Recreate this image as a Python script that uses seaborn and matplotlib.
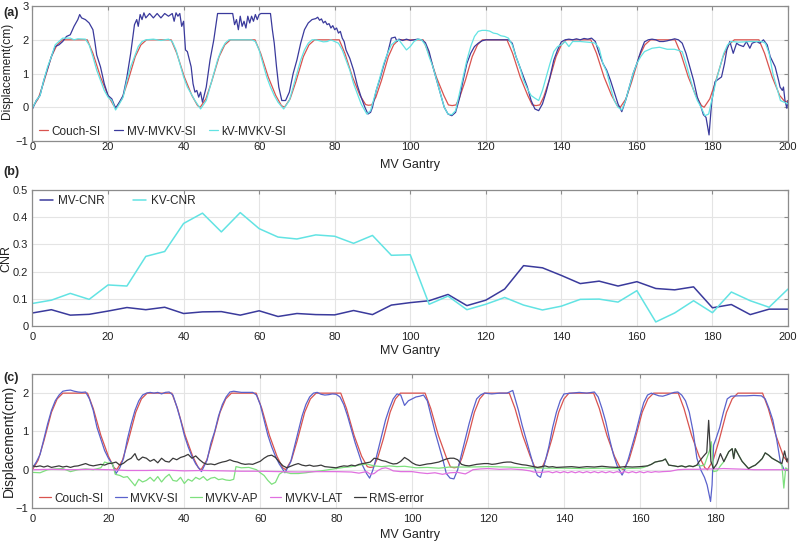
import matplotlib
matplotlib.use("Agg")
import matplotlib.pyplot as plt
import seaborn as sns

# ---- panel (a) / (c): couch reference motion (gantry deg, cm)
couch_si = [
    (0, 0.0), (1.5, 0.25), (3, 0.75), (5, 1.5), (6.5, 1.85), (8, 2.0), (14.5, 2.0), (16, 1.6), (18, 0.9), (20, 0.35), (21.5, 0.05),
    (22.2, 0.0), (23.7, 0.25), (25.2, 0.75), (27.2, 1.5), (28.7, 1.85), (30.2, 2.0), (36.7, 2.0), (38.2, 1.6), (40.2, 0.9), (42.2, 0.35), (43.7, 0.05),
    (44.4, 0.0), (45.9, 0.25), (47.4, 0.75), (49.4, 1.5), (50.9, 1.85), (52.4, 2.0), (58.9, 2.0), (60.4, 1.6), (62.4, 0.9), (64.4, 0.35), (65.9, 0.05),
    (66.7, 0.0), (68.2, 0.25), (69.7, 0.75), (71.7, 1.5), (73.2, 1.85), (74.7, 2.0), (81.2, 2.0), (82.7, 1.6), (84.7, 0.9), (86.7, 0.35), (88.2, 0.08),
    (88.9, 0.06), (89.8, 0.07), (90.9, 0.3), (92.4, 0.8), (94.2, 1.5), (95.6, 1.85), (96.9, 2.0), (103.4, 2.0), (104.9, 1.6), (106.9, 0.9), (108.9, 0.35), (110.1, 0.07),
    (111.1, 0.05), (112.1, 0.07), (113.1, 0.3), (114.6, 0.8), (116.4, 1.5), (117.8, 1.85), (119.1, 2.0), (125.6, 2.0), (127.1, 1.6), (129.1, 0.9), (131.1, 0.35), (132.3, 0.07),
    (133.3, 0.05), (134.3, 0.07), (135.3, 0.3), (136.8, 0.8), (138.6, 1.5), (140.0, 1.85), (141.3, 2.0), (147.8, 2.0), (149.3, 1.6), (151.3, 0.9), (153.3, 0.35), (154.8, 0.05),
    (155.6, 0.0), (157.1, 0.25), (158.6, 0.75), (160.6, 1.5), (162.1, 1.85), (163.6, 2.0), (170.1, 2.0), (171.6, 1.6), (173.6, 0.9), (175.6, 0.35), (177.1, 0.05),
    (177.8, 0.0), (179.3, 0.25), (180.8, 0.75), (182.8, 1.5), (184.3, 1.85), (185.8, 2.0), (192.3, 2.0), (193.8, 1.6), (195.8, 0.9), (197.8, 0.35), (199.3, 0.15), (200, 0.2),
]

mv_mvkv_si = [
    (0, -0.05), (1, 0.2), (2, 0.35), (3, 0.8), (4, 1.15), (5, 1.5), (6, 1.8), (7, 1.85), (8, 1.95), (9, 2.1), (10, 2.15), (11, 2.4), (12, 2.6), (12.5, 2.75),
    (13, 2.65), (14, 2.6), (15, 2.5), (16, 2.3), (16.5, 1.95), (17, 1.55), (18, 1.2), (19, 0.7), (20, 0.35), (21, 0.25), (22, -0.03), (23, 0.15), (24, 0.35),
    (25, 0.9), (26, 1.6), (26.6, 2.1), (27, 2.45), (27.6, 2.6), (28, 2.4), (28.5, 2.75), (29, 2.6), (29.5, 2.8), (30, 2.65), (31, 2.78), (32, 2.65), (33, 2.78),
    (34, 2.65), (35, 2.78), (36, 2.7), (37, 2.78), (37.5, 2.55), (38, 2.8), (38.5, 2.7), (39, 2.78), (39.5, 2.4), (40, 2.55), (40.5, 1.7), (41, 1.65), (42, 1.2),
    (42.5, 0.7), (43, 0.45), (43.5, 0.5), (44, 0.3), (44.5, 0.45), (45, 0.15), (46, 0.6), (47, 1.4), (48, 2.0), (48.5, 2.4), (49, 2.78), (53, 2.78), (53.5, 2.45),
    (54, 2.6), (54.5, 2.3), (55, 2.7), (55.5, 2.4), (56, 2.55), (56.5, 2.35), (57, 2.7), (57.5, 2.5), (58, 2.7), (58.5, 2.55), (59, 2.75), (59.5, 2.6), (60, 2.75),
    (60.5, 2.78), (63, 2.78), (63.5, 2.3), (64, 1.9), (64.6, 1.2), (65.2, 0.6), (66, 0.2), (67, 0.2), (68, 0.45), (69, 1.0), (70, 1.4), (71, 1.9), (72, 2.3),
    (73, 2.5), (74, 2.6), (75, 2.63), (75.5, 2.67), (76, 2.58), (76.5, 2.62), (77, 2.5), (77.5, 2.55), (78, 2.45), (78.5, 2.48), (79, 2.35), (79.5, 2.42),
    (80, 2.3), (80.5, 2.35), (81, 2.2), (81.5, 2.25), (82, 2.05), (82.5, 1.95), (83, 1.7), (84, 1.45), (85, 1.1), (86, 0.65), (87, 0.3), (88, 0.0), (88.8, -0.2),
    (89.5, -0.15), (90, 0.0), (91, 0.5), (92, 0.85), (93, 1.25), (94, 1.6), (95, 2.05), (96, 2.08), (96.5, 1.95), (97, 2.02), (98, 1.98), (99, 2.02), (100, 1.98),
    (101, 2.0), (102, 2.02), (103, 2.0), (104, 1.92), (105, 1.65), (106, 1.2), (107, 0.8), (108, 0.4), (109, 0.0), (110, -0.2), (111, -0.25), (112, -0.15),
    (113, 0.25), (114, 0.8), (115, 1.3), (116, 1.6), (117, 1.8), (118, 1.9), (119, 1.97), (120, 2.0), (122, 2.0), (124, 2.0), (126, 2.0), (127, 1.9), (128, 1.5),
    (129, 1.2), (130, 0.9), (131, 0.6), (132, 0.2), (133, -0.05), (134, -0.1), (135, 0.1), (136, 0.46), (137, 0.9), (138, 1.4), (139, 1.7), (140, 1.94),
    (141, 2.0), (142, 2.02), (143, 2.0), (144, 2.03), (145, 2.0), (146, 2.04), (147, 2.02), (148, 2.05), (149, 1.95), (150, 1.6), (151, 1.3), (152, 1.1),
    (153, 0.8), (154, 0.45), (155, 0.1), (156, -0.13), (157, 0.2), (158, 0.6), (159, 1.0), (160, 1.3), (161, 1.65), (162, 1.94), (163, 2.0), (164, 2.02),
    (165, 2.0), (166, 1.95), (167, 1.95), (168, 1.97), (169, 2.0), (170, 2.03), (171, 2.0), (172, 1.9), (173, 1.6), (174, 1.2), (175, 0.8), (176, 0.3),
    (177, 0.0), (177.6, -0.22), (178.3, -0.3), (179.1, -0.82), (179.8, 0.16), (180.7, 0.76), (182.4, 0.9), (183.2, 1.3), (183.8, 1.7), (184.6, 1.95),
    (185.5, 1.6), (186.4, 1.9), (187, 1.85), (188.2, 1.8), (189, 1.95), (189.9, 1.75), (190.5, 1.9), (191.7, 1.95), (192.5, 1.9), (193.5, 2.0), (194.5, 1.85),
    (195.3, 1.5), (196.6, 1.2), (197.5, 0.8), (197.9, 0.6), (198.5, 0.5), (198.8, 0.6), (199.2, 0.2), (199.7, -0.03), (200, 0.2),
]

kv_mvkv_si = [
    (0, -0.02), (1, 0.2), (2, 0.35), (3, 0.8), (4, 1.2), (5, 1.5), (6, 1.85), (7, 1.95), (8, 2.05), (9, 2.05), (10, 2.05), (11, 2.0), (12, 2.03), (14, 2.02),
    (15, 1.85), (16, 1.5), (17, 1.1), (18, 0.8), (19, 0.5), (20, 0.3), (21, 0.2), (22, -0.08), (23, 0.1), (24, 0.3), (25, 0.8), (26, 1.2), (27, 1.5), (28, 1.8),
    (29, 1.95), (30, 2.0), (32, 2.02), (33, 2.0), (34, 1.98), (35, 2.0), (36, 2.02), (37, 1.95), (38, 1.7), (39, 1.3), (40, 0.9), (41, 0.6), (42, 0.4), (43, 0.2),
    (44.5, -0.05), (46, 0.2), (47, 0.6), (48, 1.0), (49, 1.4), (50, 1.7), (51, 1.9), (52, 2.0), (55, 2.0), (58, 2.0), (59, 1.95), (60, 1.7), (61, 1.3), (62, 0.9),
    (63, 0.6), (64, 0.35), (65, 0.15), (66.5, -0.05), (68, 0.2), (69, 0.6), (70, 1.0), (71, 1.4), (72, 1.7), (73, 1.9), (74, 2.0), (75, 2.0), (76, 1.97),
    (77, 1.94), (78, 1.95), (79, 2.0), (80, 1.95), (81, 1.9), (82, 1.7), (83, 1.4), (84, 1.1), (85, 0.7), (86, 0.4), (87, 0.1), (88.5, -0.2), (89.5, -0.1),
    (90, 0.1), (91, 0.5), (92, 0.9), (93, 1.3), (94, 1.6), (95, 1.85), (96, 1.95), (97, 2.0), (98, 1.85), (99, 1.7), (100, 1.8), (101, 1.95), (102, 2.02),
    (103, 2.0), (104, 1.85), (105, 1.5), (106, 1.2), (107, 0.8), (108, 0.4), (109, 0.0), (110, -0.2), (111, -0.22), (112, -0.1), (113, 0.4), (114, 0.9),
    (115, 1.4), (116, 1.8), (117, 2.1), (118, 2.25), (119, 2.28), (120, 2.28), (121, 2.26), (122, 2.2), (123, 2.18), (124, 2.12), (125, 2.1), (126, 2.05),
    (127, 1.85), (128, 1.5), (129, 1.2), (130, 0.8), (131, 0.55), (132, 0.35), (133, 0.27), (134, 0.2), (135, 0.5), (136, 0.9), (137, 1.3), (138, 1.65),
    (139, 1.8), (140, 1.85), (141, 1.95), (142, 1.8), (143, 1.95), (145, 1.95), (148, 1.92), (149, 1.9), (150, 1.75), (151, 1.3), (152, 1.05), (153, 0.6),
    (154, 0.2), (155, 0.0), (156, -0.08), (157, 0.2), (158, 0.6), (159, 1.0), (160, 1.3), (161, 1.5), (162, 1.65), (163, 1.7), (164, 1.75), (166, 1.78),
    (168, 1.72), (170, 1.72), (172, 1.65), (173, 1.3), (174, 0.9), (175, 0.5), (176, 0.2), (177, 0.0), (178, -0.25), (179, -0.2), (180, 0.3), (181, 0.8),
    (182, 1.2), (183, 1.6), (184, 1.85), (185, 1.95), (187, 1.93), (190, 1.95), (193, 1.95), (194, 1.9), (195, 1.6), (196, 1.0), (197, 0.6), (198, 0.2),
    (199, 0.15), (200, 0.1),
]

# ---- panel (b): contrast-to-noise ratio every 5 deg
cnr_gantry = list(range(0, 201, 5))
mv_cnr = [0.048, 0.06, 0.04, 0.043, 0.055, 0.068, 0.06, 0.069, 0.046, 0.052, 0.053, 0.04, 0.056, 0.035, 0.046, 0.042, 0.041,
          0.057, 0.042, 0.077, 0.086, 0.093, 0.116, 0.075, 0.095, 0.136, 0.222, 0.214, 0.186, 0.156, 0.165, 0.147, 0.163, 0.138,
          0.133, 0.144, 0.067, 0.079, 0.042, 0.062, 0.062]
kv_cnr = [0.083, 0.095, 0.12, 0.098, 0.151, 0.147, 0.256, 0.274, 0.377, 0.415, 0.346, 0.417, 0.358, 0.327, 0.32, 0.335, 0.33,
          0.304, 0.333, 0.26, 0.262, 0.08, 0.11, 0.06, 0.08, 0.105, 0.077, 0.059, 0.073, 0.098, 0.099, 0.088, 0.13, 0.015,
          0.048, 0.093, 0.049, 0.125, 0.093, 0.069, 0.136]

# ---- panel (c): MVKV estimates
mvkv_si = [
    (0, 0.05), (1, 0.2), (2, 0.4), (3, 0.8), (4, 1.2), (5, 1.55), (6, 1.8), (7, 1.95), (8, 2.05), (9, 2.07), (10, 2.08), (11, 2.05), (12, 2.03), (13, 2.02),
    (14, 2.03), (15, 1.85), (16, 1.55), (17, 1.1), (18, 0.8), (19, 0.5), (20, 0.3), (21, 0.15), (22, -0.1), (23, 0.05), (24, 0.3), (25, 0.8), (26, 1.2),
    (27, 1.55), (28, 1.8), (29, 1.95), (30, 2.0), (31, 2.02), (32, 2.0), (33, 2.02), (34, 1.98), (35, 2.02), (36, 2.03), (37, 1.95), (38, 1.65), (39, 1.3),
    (40, 0.9), (41, 0.6), (42, 0.35), (43, 0.15), (44.5, -0.05), (46, 0.25), (47, 0.7), (48, 1.0), (49, 1.4), (50, 1.7), (51, 1.9), (52, 2.03), (53, 2.05),
    (55, 2.02), (58, 2.02), (59, 1.95), (60, 1.7), (61, 1.3), (62, 0.9), (63, 0.6), (64, 0.35), (65, 0.15), (66.5, -0.08), (68, 0.2), (69, 0.6), (70, 1.0),
    (71, 1.4), (72, 1.7), (73, 1.9), (74, 2.0), (75, 2.02), (76, 1.97), (77, 1.95), (78, 1.96), (79, 1.98), (80, 1.97), (81, 1.9), (82, 1.7), (83, 1.4),
    (84, 1.05), (85, 0.7), (86, 0.4), (87, 0.1), (88, -0.1), (88.8, -0.22), (89.5, -0.05), (90, 0.1), (91, 0.5), (92, 0.9), (93, 1.3), (94, 1.6), (95, 1.85),
    (96, 1.98), (97, 1.95), (98, 1.68), (99, 1.8), (100, 1.85), (101, 1.9), (102, 1.92), (103, 1.95), (104, 1.8), (105, 1.4), (106, 1.0), (107, 0.65),
    (108, 0.3), (109, -0.1), (110, -0.22), (111, -0.24), (112, 0.0), (113, 0.4), (114, 0.8), (115, 1.2), (116, 1.55), (117, 1.85), (118, 1.95), (119, 2.0),
    (121, 1.98), (123, 2.0), (125, 2.0), (126.5, 2.07), (127, 1.9), (128, 1.55), (129, 1.15), (130, 0.8), (131, 0.45), (132, 0.1), (133, -0.15),
    (133.8, -0.2), (135, 0.2), (136, 0.6), (137, 1.1), (138, 1.5), (139, 1.8), (140, 1.98), (142, 2.0), (144, 2.02), (146, 2.0), (148, 2.03), (149, 1.9),
    (150, 1.6), (151, 1.25), (152, 0.8), (153, 0.4), (154, 0.1), (155.3, -0.14), (156, 0.0), (157, 0.3), (158, 0.65), (159, 1.0), (160, 1.4), (161, 1.75),
    (162, 1.95), (163, 2.0), (165, 1.93), (166, 1.92), (167, 1.95), (169, 2.02), (170, 2.03), (171, 1.95), (172, 1.8), (173, 1.5), (174, 1.0), (175, 0.3),
    (176, 0.0), (177, -0.2), (177.7, -0.4), (178.6, -0.83), (179, -0.4), (179.4, 0.64), (180, 0.8), (181, 1.1), (182, 1.5), (183, 1.85), (184, 1.92),
    (186, 1.93), (188, 1.93), (190, 1.94), (192, 1.93), (193, 1.85), (194, 1.6), (195, 1.3), (196, 0.8), (197, 0.2), (198, 0.0), (199, 0.0),
]

mvkv_ap = [
    (0, -0.07), (2, -0.08), (4, 0.0), (6, 0.02), (8, 0.03), (10, -0.05), (12, 0.0), (14, 0.02), (16, 0.0), (18, 0.05), (19, 0.2), (20, 0.17), (21, 0.18),
    (21.8, -0.12), (23, -0.15), (24, -0.2), (25, -0.18), (26, -0.3), (27, -0.42), (28, -0.25), (29, -0.32), (30, -0.28), (31, -0.2), (32, -0.3), (33, -0.18),
    (34, -0.32), (35, -0.2), (36, -0.12), (37, -0.28), (38, -0.3), (39, -0.2), (40, -0.36), (41, -0.25), (42, -0.3), (43, -0.2), (44, -0.25), (45, -0.18),
    (46, -0.28), (47, -0.22), (48, -0.2), (49, -0.26), (50, -0.24), (51, -0.27), (52, -0.28), (53, -0.25), (53.6, 0.08), (55, 0.05), (57, 0.06), (59, 0.0),
    (60, -0.08), (61, -0.15), (62, -0.28), (63, -0.38), (64, -0.33), (65, -0.12), (66, -0.05), (68, -0.1), (70, -0.1), (72, -0.08), (74, -0.05), (76, -0.03),
    (78, 0.0), (80, 0.03), (82, 0.06), (84, 0.08), (86, 0.12), (88, 0.15), (90, 0.1), (92, 0.08), (94, 0.1), (96, 0.08), (98, 0.09), (101, 0.05), (104, 0.06),
    (107, 0.04), (110, 0.07), (115, 0.07), (120, 0.08), (125, 0.07), (130, 0.05), (135, 0.04), (140, 0.04), (145, 0.03), (150, 0.04), (155, 0.03), (160, 0.04),
    (161, 0.06), (162, 0.1), (163, 0.14), (164, 0.2), (165, 0.22), (166, 0.24), (166.7, 0.28), (167.6, 0.12), (169, 0.1), (170, 0.08), (171, 0.1), (172, 0.07),
    (173, 0.1), (174, 0.08), (175, 0.12), (176, 0.1), (177, 0.12), (177.8, 0.35), (178.5, 0.55), (178.8, 0.73), (179.4, -0.05), (180.3, -0.03), (181.2, 0.1),
    (182.1, 0.21), (183.4, 0.47), (184.3, 0.55), (184.7, 0.29), (185.1, 0.55), (186, 0.38), (186.9, 0.22), (187.8, 0.12), (188.6, 0.03), (189.5, 0.08),
    (190.4, 0.12), (191.3, 0.2), (192.2, 0.29), (193, 0.44), (193.9, 0.38), (194.8, 0.3), (195.7, 0.25), (196.6, 0.2), (197.4, 0.12), (197.9, -0.48),
    (198.4, 0.05), (199, 0.0),
]

mvkv_lat = [
    (0, 0.0), (5, 0.01), (10, 0.0), (15, 0.01), (20, 0.0), (25, -0.02), (30, -0.02), (35, -0.01), (40, -0.03), (45, -0.02), (50, -0.03), (55, -0.04),
    (60, -0.04), (65, -0.05), (70, -0.06), (75, -0.05), (80, -0.05), (84, -0.06), (86, -0.09), (88, -0.05), (89, -0.12), (90, -0.1), (91, -0.02), (92, 0.03),
    (93, 0.05), (94, 0.02), (95, -0.03), (97, -0.05), (100, -0.05), (102, -0.08), (104, -0.1), (106, -0.08), (108, -0.12), (110, -0.08), (112, -0.07),
    (114, -0.11), (115, -0.06), (116, 0.0), (118, 0.02), (120, 0.03), (123, 0.01), (126, 0.02), (129, 0.0), (131, -0.03), (132, -0.06), (134, -0.07),
    (136, -0.05), (137, -0.08), (138, -0.05), (139, -0.08), (140, -0.05), (141, -0.08), (142, -0.05), (143, -0.08), (144, -0.05), (145, -0.08), (146, -0.05),
    (147, -0.08), (148, -0.05), (149, -0.08), (150, -0.05), (151, -0.08), (152, -0.05), (153, -0.08), (154, -0.05), (155, -0.08), (156, -0.05), (157, -0.08),
    (158, -0.05), (159, -0.08), (160, -0.05), (161, -0.08), (162, -0.05), (163, -0.07), (164, -0.05), (165, -0.06), (166, -0.05), (168, -0.04), (170, 0.0),
    (172, 0.01), (175, 0.01), (178, 0.02), (180, 0.02), (182, 0.03), (185, 0.02), (188, 0.01), (190, 0.0), (193, 0.0), (196, 0.0), (199, 0.0),
]

rms_error = [
    (0, 0.1), (1, 0.08), (2, 0.1), (3, 0.07), (4, 0.1), (5, 0.06), (6, 0.08), (7, 0.1), (8, 0.07), (9, 0.09), (10, 0.06), (11, 0.09), (12, 0.1), (13, 0.13),
    (14, 0.16), (15, 0.12), (16, 0.1), (17, 0.12), (18, 0.14), (19, 0.12), (20, 0.16), (21, 0.17), (22, 0.2), (23, 0.12), (24, 0.17), (25, 0.25), (26, 0.3),
    (27, 0.42), (27.6, 0.28), (28, 0.25), (29, 0.33), (30, 0.3), (31, 0.22), (32, 0.27), (33, 0.18), (34, 0.3), (35, 0.22), (36, 0.2), (37, 0.3), (38, 0.26),
    (39, 0.32), (40, 0.35), (41, 0.4), (42, 0.3), (43, 0.36), (44, 0.26), (45, 0.18), (46, 0.14), (47, 0.15), (48, 0.13), (49, 0.17), (50, 0.2), (51, 0.22),
    (52, 0.26), (53, 0.22), (54, 0.2), (55, 0.16), (56, 0.14), (57, 0.15), (58, 0.14), (59, 0.18), (60, 0.22), (61, 0.3), (62, 0.36), (63, 0.38), (64, 0.32),
    (65, 0.2), (66, 0.1), (67, 0.05), (68, 0.09), (69, 0.13), (70, 0.16), (71, 0.12), (72, 0.1), (73, 0.12), (74, 0.09), (75, 0.1), (76, 0.12), (77, 0.08),
    (78, 0.07), (79, 0.06), (80, 0.05), (81, 0.08), (82, 0.1), (83, 0.09), (84, 0.12), (85, 0.1), (86, 0.14), (87, 0.16), (88, 0.18), (89, 0.2), (90, 0.3),
    (91, 0.28), (92, 0.24), (93, 0.22), (94, 0.18), (95, 0.15), (96, 0.16), (97, 0.22), (98, 0.32), (99, 0.26), (100, 0.18), (101, 0.13), (102, 0.11),
    (103, 0.13), (104, 0.15), (105, 0.16), (106, 0.18), (107, 0.2), (108, 0.24), (109, 0.28), (110, 0.3), (111, 0.3), (112, 0.26), (113, 0.14), (114, 0.11),
    (115, 0.1), (116, 0.12), (117, 0.14), (118, 0.15), (119, 0.16), (120, 0.16), (121, 0.14), (122, 0.15), (123, 0.17), (124, 0.19), (125, 0.2), (126, 0.2),
    (127, 0.17), (128, 0.15), (129, 0.13), (130, 0.12), (131, 0.1), (132, 0.08), (133, 0.06), (134, 0.08), (135, 0.1), (136, 0.07), (137, 0.08), (138, 0.06),
    (140, 0.07), (142, 0.08), (144, 0.06), (146, 0.08), (148, 0.07), (150, 0.09), (152, 0.07), (154, 0.06), (156, 0.08), (158, 0.07), (160, 0.08),
    (162, 0.1), (163, 0.14), (164, 0.2), (165, 0.22), (166, 0.24), (166.7, 0.28), (167.6, 0.12), (169, 0.1), (170, 0.08), (171, 0.1), (172, 0.07), (173, 0.1),
    (174, 0.08), (175, 0.12), (175.5, 0.2), (176.8, 0.36), (177.6, 0.45), (178.1, 1.29), (178.7, 0.21), (179.4, 0.03), (180.3, 0.16), (181.2, 0.42),
    (182.1, 0.21), (183.4, 0.47), (184.3, 0.55), (184.7, 0.29), (185.1, 0.55), (186, 0.38), (186.9, 0.22), (187.8, 0.12), (188.6, 0.03), (189.5, 0.08),
    (190.4, 0.12), (191.3, 0.2), (192.2, 0.29), (193, 0.44), (193.9, 0.38), (194.8, 0.3), (195.7, 0.25), (196.6, 0.2), (197.4, 0.16), (198.1, 0.49),
    (198.7, 0.21), (199, 0.3),
]

RED = "#d9534f"
NAVY = "#3a3a9c"
CYAN = "#62e3e3"
BLUE = "#5a62cc"
GREEN = "#7ee07e"
PINK = "#e070e0"
DARK = "#3a3a3a"
EDGE = "#8c8c8c"

sns.set_theme(style="whitegrid")
plt.rcParams["font.family"] = ["Liberation Sans", "DejaVu Sans"]
plt.rcParams["grid.color"] = "#e4e4e4"
plt.rcParams["grid.linewidth"] = 0.8
plt.rcParams["axes.edgecolor"] = EDGE
plt.rcParams["axes.linewidth"] = 0.9


def trace(ax, pts, color, label, lw=0.9):
    xs = [p[0] for p in pts]
    ys = [p[1] for p in pts]
    sns.lineplot(x=xs, y=ys, ax=ax, color=color, linewidth=lw, label=label,
                 estimator=None, sort=False)


def style(ax, xlim, xticks, ylim, yticks, ylabel, xpad, xlabpad, ylab_x=-0.025, ylab_y=0.5, ylab_size=9):
    ax.set_xlim(*xlim)
    ax.set_ylim(*ylim)
    ax.set_xticks(xticks)
    ax.set_yticks(yticks)
    ax.tick_params(which="both", direction="in", top=True, right=True, length=3,
                   width=0.8, color=EDGE, labelsize=8, pad=3, labelcolor="#222222")
    ax.tick_params(axis="x", pad=xpad)
    ax.set_xlabel("MV Gantry", fontsize=9, labelpad=xlabpad, color="#222222")
    ax.set_ylabel(ylabel, fontsize=ylab_size, color="#222222")
    ax.yaxis.set_label_coords(ylab_x, ylab_y)
    for s in ax.spines.values():
        s.set_color(EDGE)


fig = plt.figure(figsize=(8, 5.44), dpi=100)
ax_a = fig.add_axes([0.0406, 0.7408, 0.9444, 0.248])
ax_b = fig.add_axes([0.0406, 0.4007, 0.9444, 0.25])
ax_c = fig.add_axes([0.0406, 0.0662, 0.9444, 0.2463])

# (a)
trace(ax_a, couch_si, RED, "Couch-SI")
trace(ax_a, mv_mvkv_si, NAVY, "MV-MVKV-SI")
trace(ax_a, kv_mvkv_si, CYAN, "kV-MVKV-SI")
style(ax_a, (0, 200), range(0, 201, 20), (-1, 3), [-1, 0, 1, 2, 3], "Displacement(cm)",
      xpad=1, xlabpad=4.5, ylab_x=-0.026, ylab_y=0.52, ylab_size=8.6)
ax_a.legend(loc="lower left", bbox_to_anchor=(0.002, -0.01), borderaxespad=0, ncol=3, frameon=False,
            fontsize=8.5, handlelength=0.8, handletextpad=0.3, columnspacing=1.1)

# (b)
sns.lineplot(x=cnr_gantry, y=mv_cnr, ax=ax_b, color=NAVY, linewidth=1.1, label="MV-CNR")
sns.lineplot(x=cnr_gantry, y=kv_cnr, ax=ax_b, color=CYAN, linewidth=1.1, label="KV-CNR")
style(ax_b, (0, 200), range(0, 201, 20), (0, 0.5), [0, 0.1, 0.2, 0.3, 0.4, 0.5], "CNR",
      xpad=4, xlabpad=2.5, ylab_x=-0.026)
ax_b.set_yticklabels(["0", "0.1", "0.2", "0.3", "0.4", "0.5"])
ax_b.legend(loc="upper left", bbox_to_anchor=(0.004, 1.0), borderaxespad=0, ncol=2, frameon=False,
            fontsize=8.5, handlelength=1.1, handletextpad=0.4, columnspacing=2.4)

# (c)
trace(ax_c, couch_si, RED, "Couch-SI")
trace(ax_c, mvkv_si, BLUE, "MVKV-SI")
trace(ax_c, mvkv_ap, GREEN, "MVKV-AP")
trace(ax_c, mvkv_lat, PINK, "MVKV-LAT")
trace(ax_c, rms_error, DARK, "RMS-error")
style(ax_c, (0, 199), range(0, 181, 20), (-1, 2.5), [-1, 0, 1, 2], "Displacement(cm)",
      xpad=4.5, xlabpad=3.2, ylab_x=-0.022, ylab_size=10)
ax_c.legend(loc="lower left", bbox_to_anchor=(0.002, -0.01), borderaxespad=0, ncol=5, frameon=False,
            fontsize=8.5, handlelength=1.0, handletextpad=0.3, columnspacing=1.0)

for lab, y in (("(a)", 0.977), ("(b)", 0.683), ("(c)", 0.306)):
    fig.text(0.004, y, lab, fontsize=9, fontweight="bold", va="center", ha="left")

fig.savefig("out.png", dpi=100)
